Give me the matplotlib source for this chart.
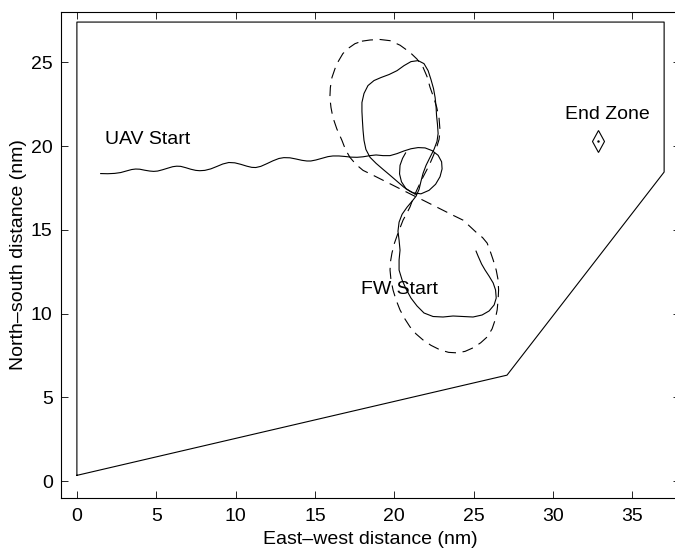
import matplotlib
matplotlib.use("Agg")
import matplotlib.pyplot as plt

plt.rcParams['font.family'] = ['Liberation Sans', 'DejaVu Sans']

# Operating area boundary (nm)
bound_x = [0, 0, 37, 37, 27.1, 0]
bound_y = [0.35, 27.4, 27.4, 18.45, 6.33, 0.35]

# UAV track (solid, wiggly)
uav_x = [1.50, 1.94, 2.38, 2.76, 3.14, 3.45, 3.70, 3.96, 4.27, 4.59, 4.84, 5.09,
         5.41, 5.72, 6.04, 6.29, 6.54, 6.86, 7.17, 7.49, 7.74, 8.06, 8.44, 8.81,
         9.19, 9.57, 9.95, 10.33, 10.71, 11.02, 11.27, 11.59, 11.97, 12.35, 12.73,
         13.04, 13.42, 13.80, 14.18, 14.49, 14.74, 15.06, 15.44, 15.82, 16.13,
         16.51, 16.89, 17.27, 17.65, 18.03, 18.47, 18.85, 19.29, 19.73, 20.17,
         20.61, 21.05, 21.50, 21.94, 22.38, 22.76, 22.98, 23.01, 22.88, 22.60,
         22.19, 21.68, 21.18, 20.74, 20.45, 20.33, 20.36, 20.52, 20.71]
uav_y = [18.36, 18.35, 18.37, 18.42, 18.52, 18.60, 18.63, 18.62, 18.56, 18.51, 18.49, 18.51,
         18.59, 18.68, 18.77, 18.80, 18.79, 18.71, 18.62, 18.55, 18.53, 18.55, 18.64, 18.78,
         18.93, 19.02, 19.00, 18.91, 18.80, 18.73, 18.72, 18.79, 18.95, 19.12, 19.26,
         19.31, 19.30, 19.23, 19.15, 19.11, 19.11, 19.17, 19.27, 19.37, 19.41,
         19.41, 19.38, 19.34, 19.33, 19.36, 19.43, 19.47, 19.43, 19.43, 19.55,
         19.71, 19.84, 19.91, 19.89, 19.73, 19.45, 19.06, 18.64, 18.17, 17.72,
         17.36, 17.15, 17.21, 17.45, 17.87, 18.34, 18.85, 19.27, 19.59]

# FW track (solid figure-eight)
fw_x = [25.15, 25.28, 25.50, 25.72, 25.97, 26.23, 26.38, 26.42, 26.29, 25.97, 25.53,
        24.96, 24.33, 23.70, 23.07, 22.44, 21.87, 21.43, 21.05, 20.74, 20.49, 20.30,
        20.30, 20.36, 20.30, 20.23, 20.30, 20.49, 20.80, 21.12, 21.37, 21.56, 21.68,
        21.81, 22.00, 22.25, 22.50, 22.69, 22.76, 22.72, 22.66, 22.63, 22.57, 22.47,
        22.31, 22.13, 21.87, 21.50, 21.05, 20.61, 20.17, 19.67, 19.16, 18.72, 18.34,
        18.09, 17.96, 17.96, 17.99, 18.03, 18.09, 18.21, 18.47, 18.85, 19.29, 19.73,
        20.17, 20.61, 20.99, 21.37]
fw_y = [13.73, 13.43, 12.96, 12.60, 12.24, 11.83, 11.41, 10.93, 10.52, 10.16, 9.92,
        9.80, 9.83, 9.86, 9.80, 9.83, 10.04, 10.46, 10.93, 11.47, 12.01, 12.60,
        13.20, 13.79, 14.39, 14.92, 15.46, 15.93, 16.35, 16.71, 17.01, 17.42, 17.90,
        18.37, 18.85, 19.33, 19.80, 20.28, 20.75, 21.29, 21.83, 22.36, 22.90, 23.43,
        23.97, 24.50, 24.92, 25.10, 25.04, 24.80, 24.50, 24.27, 24.09, 23.91, 23.61,
        23.14, 22.60, 22.06, 21.53, 20.93, 20.34, 19.80, 19.33, 18.97, 18.61, 18.26,
        17.90, 17.54, 17.30, 17.12]

# Planned figure-eight (dashed)
plan_x = [17.96, 18.47, 19.10, 19.73, 20.36, 20.99, 21.43, 21.81, 22.06, 22.25, 22.47,
          22.67, 22.82, 22.88, 22.82, 22.67, 22.47, 22.25, 22.03, 21.81, 21.62, 21.41,
          21.18, 20.99, 20.77, 20.55, 20.39, 20.23, 20.01, 19.85, 19.76, 19.73, 19.79,
          19.92, 20.11, 20.36, 20.67, 20.99, 21.37, 21.81, 22.31, 22.88, 23.42, 23.96,
          24.46, 24.96, 25.44, 25.85, 26.16, 26.35, 26.48, 26.54, 26.57, 26.54, 26.42,
          26.23, 26.04, 25.85, 25.56, 25.22, 24.78, 24.33, 23.70, 23.07, 22.44, 21.81,
          21.18, 20.55, 19.92, 19.29, 18.66, 18.03, 17.58, 17.20, 16.92, 16.70, 16.38,
          16.13, 16.01, 15.94, 15.97, 16.07, 16.35, 16.76, 17.11, 17.52, 17.96]
plan_y = [26.26, 26.33, 26.36, 26.29, 26.02, 25.59, 25.19, 24.70, 24.15, 23.51, 22.93,
          22.32, 21.65, 20.93, 20.40, 19.94, 19.45, 18.97, 18.55, 18.15, 17.78, 17.36,
          16.86, 16.37, 15.96, 15.58, 15.19, 14.80, 14.21, 13.61, 13.11, 12.60, 12.01,
          11.41, 10.82, 10.22, 9.68, 9.21, 8.79, 8.43, 8.11, 7.84, 7.69, 7.66,
          7.75, 7.96, 8.26, 8.61, 9.09, 9.62, 10.22, 10.82, 11.41, 12.01, 12.60,
          13.20, 13.73, 14.21, 14.54, 14.80, 15.19, 15.58, 15.87, 16.17, 16.47, 16.77,
          17.06, 17.36, 17.66, 17.96, 18.26, 18.55, 18.91, 19.33, 19.80, 20.34, 21.02,
          21.71, 22.30, 22.90, 23.49, 24.09, 24.86, 25.52, 25.84, 26.11, 26.26]

end_zone = (32.85, 20.32)

fig = plt.figure(figsize=(6.75, 5.51), dpi=100)
ax = fig.add_axes([0.0904, 0.0962, 0.917, 0.882])

lw = 0.8
ax.plot(bound_x, bound_y, 'k-', linewidth=lw)
ax.plot(uav_x, uav_y, 'k-', linewidth=lw)
ax.plot(fw_x, fw_y, 'k-', linewidth=lw)
ax.plot(plan_x, plan_y, 'k--', linewidth=lw, dashes=(10, 6))
ax.plot(end_zone[0], end_zone[1], 'kd', markerfacecolor='none', markersize=11, markeredgewidth=0.8)
ax.plot(end_zone[0], end_zone[1], 'k.', markersize=1.5)

ax.text(1.75, 20.38, 'UAV Start', fontsize=14, va='center')
ax.text(17.9, 11.45, 'FW Start', fontsize=14, va='center')
ax.text(30.75, 21.87, 'End Zone', fontsize=14, va='center')

ax.set_xlim(-1, 38)
ax.set_ylim(-1, 28)
ax.set_xticks([0, 5, 10, 15, 20, 25, 30, 35])
ax.set_yticks([0, 5, 10, 15, 20, 25])
ax.tick_params(direction='in', length=5, width=0.6, top=True, right=True, labelsize=14)
ax.tick_params(axis='x', pad=7.5)
ax.tick_params(axis='y', pad=6)
for s in ax.spines.values():
    s.set_linewidth(0.8)
ax.set_xlabel('East\u2013west distance (nm)', fontsize=14, labelpad=4)
ax.set_ylabel('North\u2013south distance (nm)', fontsize=14, labelpad=3)

fig.savefig('out.png', dpi=100)
